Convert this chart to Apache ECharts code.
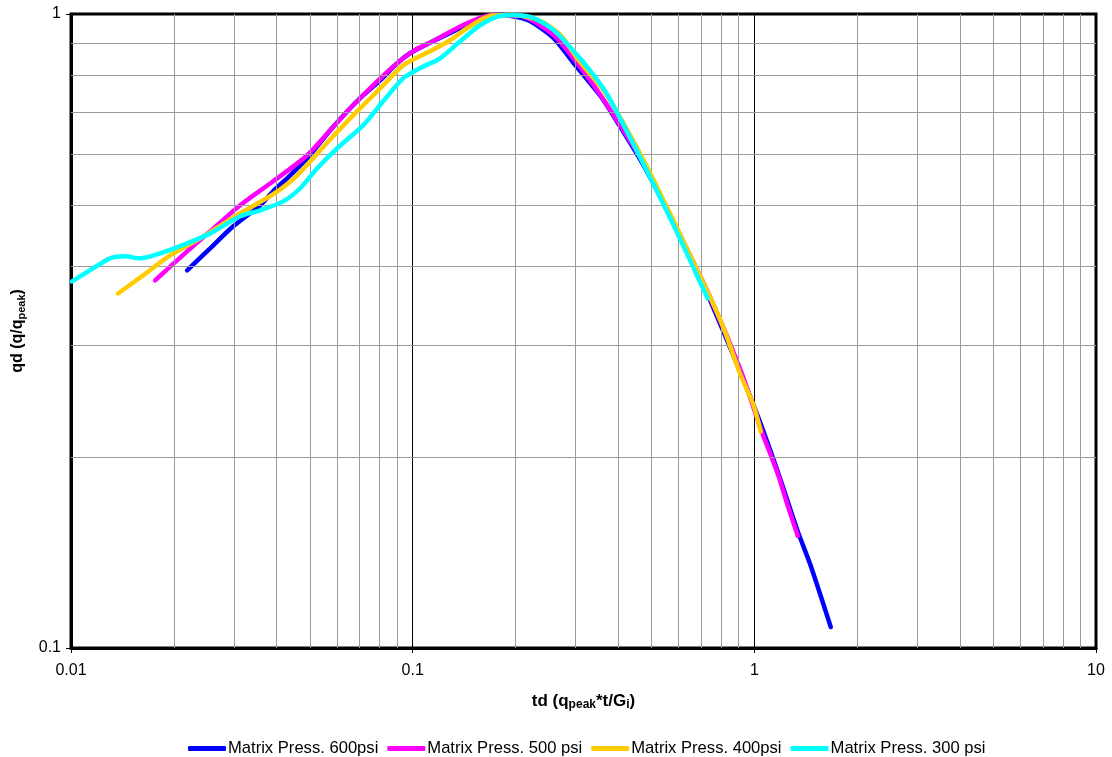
<!DOCTYPE html>
<html><head><meta charset="utf-8">
<script src="https://cdn.jsdelivr.net/npm/echarts@6/dist/echarts.min.js"></script>
<style>html,body{margin:0;padding:0;background:#fff}#c{width:1112px;height:757px}</style>
</head><body><div id="c"></div>
<script>
const seriesNames = ['Matrix Press. 600psi', 'Matrix Press. 500 psi', 'Matrix Press. 400psi', 'Matrix Press. 300 psi'];
const seriesColors = ['#0000FF', '#FF00FF', '#FFCC00', '#00FFFF'];

const td600 = [0.02187,0.02555,0.02984,0.03579,0.03906,0.04383,0.04915,0.05739,0.06438,0.07173,0.08043,0.0902,0.09847,0.115,0.138,0.1579,0.1807,0.2168,0.2584,0.2958,0.3548,0.3796,0.4742,0.5964,0.6829,0.7452,0.9961,1.171,1.341,1.463,1.674];
const qd600 = [0.394,0.427,0.4625,0.4993,0.5253,0.5567,0.5922,0.6557,0.7026,0.7447,0.7866,0.8368,0.8678,0.9066,0.9504,0.9855,0.996,0.9784,0.9165,0.8368,0.742,0.7026,0.5772,0.4542,0.387,0.352,0.2411,0.1897,0.1526,0.1347,0.1079];

const td500 = [0.01763,0.02187,0.02555,0.03128,0.03906,0.04915,0.05739,0.06569,0.07674,0.0902,0.1005,0.115,0.1446,0.1724,0.2068,0.2584,0.2998,0.3548,0.4742,0.5964,0.7452,0.9125,1.044,1.171,1.253,1.341];
const qd500 = [0.38,0.4223,0.4542,0.4993,0.5447,0.5988,0.6557,0.7103,0.7724,0.8368,0.8741,0.9066,0.9678,0.996,0.9935,0.9265,0.843,0.7447,0.5814,0.4558,0.3559,0.274,0.2218,0.1883,0.1676,0.1502];

const td400 = [0.01373,0.01625,0.0195,0.02388,0.03128,0.03906,0.04595,0.05739,0.06887,0.08043,0.09393,0.1127,0.129,0.1446,0.169,0.1973,0.2367,0.2709,0.3059,0.3669,0.471,0.5885,0.7452,0.8138,0.9125,0.9961,1.044];
const qd400 = [0.3624,0.387,0.4162,0.4426,0.4849,0.5197,0.5567,0.6346,0.7026,0.7639,0.8307,0.8741,0.9099,0.9504,0.9935,0.996,0.9749,0.9265,0.8458,0.7501,0.5922,0.4642,0.3559,0.319,0.269,0.2411,0.2194];

const td300 = [0.01007,0.0116,0.01301,0.01439,0.01593,0.01823,0.02187,0.02555,0.03128,0.03579,0.0418,0.04688,0.05257,0.06016,0.07173,0.08207,0.09393,0.1053,0.1206,0.138,0.1579,0.1807,0.1959,0.2258,0.2584,0.2958,0.3385,0.372,0.4647,0.5805,0.7302];
const qd300 = [0.3786,0.397,0.4117,0.4147,0.4117,0.4192,0.4347,0.4508,0.4798,0.4902,0.5064,0.5311,0.5711,0.6141,0.6678,0.729,0.7923,0.8217,0.8522,0.9066,0.9608,0.9935,0.996,0.9855,0.9435,0.8741,0.801,0.7447,0.5922,0.4642,0.3559];

const xTickLabels = ['0.01', '0.1', '1', '10'];
const yTickLabels = ['0.1', '1'];
const xMinorGrid = [0.02,0.03,0.04,0.05,0.06,0.07,0.08,0.09,0.2,0.3,0.4,0.5,0.6,0.7,0.8,0.9,2,3,4,5,6,7,8,9];
const yMinorGrid = [0.2,0.3,0.4,0.5,0.6,0.7,0.8,0.9];

const tds = [td600, td500, td400, td300];
const qds = [qd600, qd500, qd400, qd300];

const FONT = 'Arial, "Liberation Sans", sans-serif';
function fmt(v) {
  const s = String(Number(Number(v).toPrecision(3)));
  return xTickLabels.concat(yTickLabels).indexOf(s) >= 0 ? s : '';
}

const chart = echarts.init(document.getElementById('c'), null, {renderer: 'canvas'});

const series = [{
  name: '_grid',
  type: 'line',
  data: [[1, 0.5]],
  symbol: 'none',
  lineStyle: {opacity: 0},
  silent: true,
  z: 1,
  markLine: {
    silent: true,
    symbol: 'none',
    animation: false,
    label: {show: false},
    lineStyle: {color: '#9a9a9a', width: 1, type: 'solid'},
    emphasis: {disabled: true},
    data: xMinorGrid.map(v => ({xAxis: v})).concat(yMinorGrid.map(v => ({yAxis: v})))
  }
}];
seriesNames.forEach((n, i) => {
  series.push({
    name: n,
    type: 'line',
    data: tds[i].map((x, k) => [x, qds[i][k]]),
    symbol: 'none',
    smooth: 0.25,
    z: 3 + i,
    lineStyle: {color: seriesColors[i], width: 4.5, cap: 'round', join: 'round'},
    itemStyle: {color: seriesColors[i]},
    emphasis: {disabled: true}
  });
});

const option = {
  animation: false,
  backgroundColor: '#fff',
  grid: {left: 71, right: 16, top: 14, bottom: 109, show: true, borderColor: '#000', borderWidth: 3, backgroundColor: 'transparent', containLabel: false},
  legend: {
    data: seriesNames,
    left: 183,
    top: 735,
    icon: 'roundRect',
    itemWidth: 38,
    itemHeight: 5,
    itemGap: 9,
    textStyle: {fontFamily: FONT, fontSize: 16.6, color: '#000', padding: [0, 0, 0, -3]}
  },
  xAxis: {
    type: 'log',
    logBase: 10,
    min: 0.01,
    max: 10,
    name: '{b|td (q}{s|peak}{b|*t/G}{s|i}{b|)}',
    nameLocation: 'middle',
    nameGap: 43,
    nameTextStyle: {
      rich: {
        b: {fontFamily: FONT, fontSize: 17, fontWeight: 'bold', color: '#000', lineHeight: 20},
        s: {fontFamily: FONT, fontSize: 12, fontWeight: 'bold', color: '#000', lineHeight: 12, verticalAlign: 'bottom'}
      }
    },
    axisLine: {show: true, lineStyle: {color: '#000', width: 3}},
    axisTick: {show: true, length: 5, lineStyle: {color: '#000', width: 1}},
    axisLabel: {fontFamily: FONT, fontSize: 16, color: '#000', margin: 15, formatter: fmt, showMinLabel: true, showMaxLabel: true},
    splitLine: {show: true, lineStyle: {color: '#000', width: 1}},
    minorTick: {show: false},
    minorSplitLine: {show: false}
  },
  yAxis: {
    type: 'log',
    logBase: 10,
    min: 0.1,
    max: 1,
    name: '{b|qd (q/q}{s|peak}{b|)}',
    nameLocation: 'middle',
    nameGap: 38,
    nameTextStyle: {
      rich: {
        b: {fontFamily: FONT, fontSize: 16, fontWeight: 'bold', color: '#000', lineHeight: 20},
        s: {fontFamily: FONT, fontSize: 11, fontWeight: 'bold', color: '#000', lineHeight: 11, verticalAlign: 'bottom'}
      }
    },
    axisLine: {show: true, lineStyle: {color: '#000', width: 3}},
    axisTick: {show: true, length: 5, lineStyle: {color: '#000', width: 1}},
    axisLabel: {fontFamily: FONT, fontSize: 16, color: '#000', margin: 10, formatter: fmt, showMinLabel: true, showMaxLabel: true},
    splitLine: {show: false}
  },
  series: series
};
chart.setOption(option);
</script>
</body></html>
